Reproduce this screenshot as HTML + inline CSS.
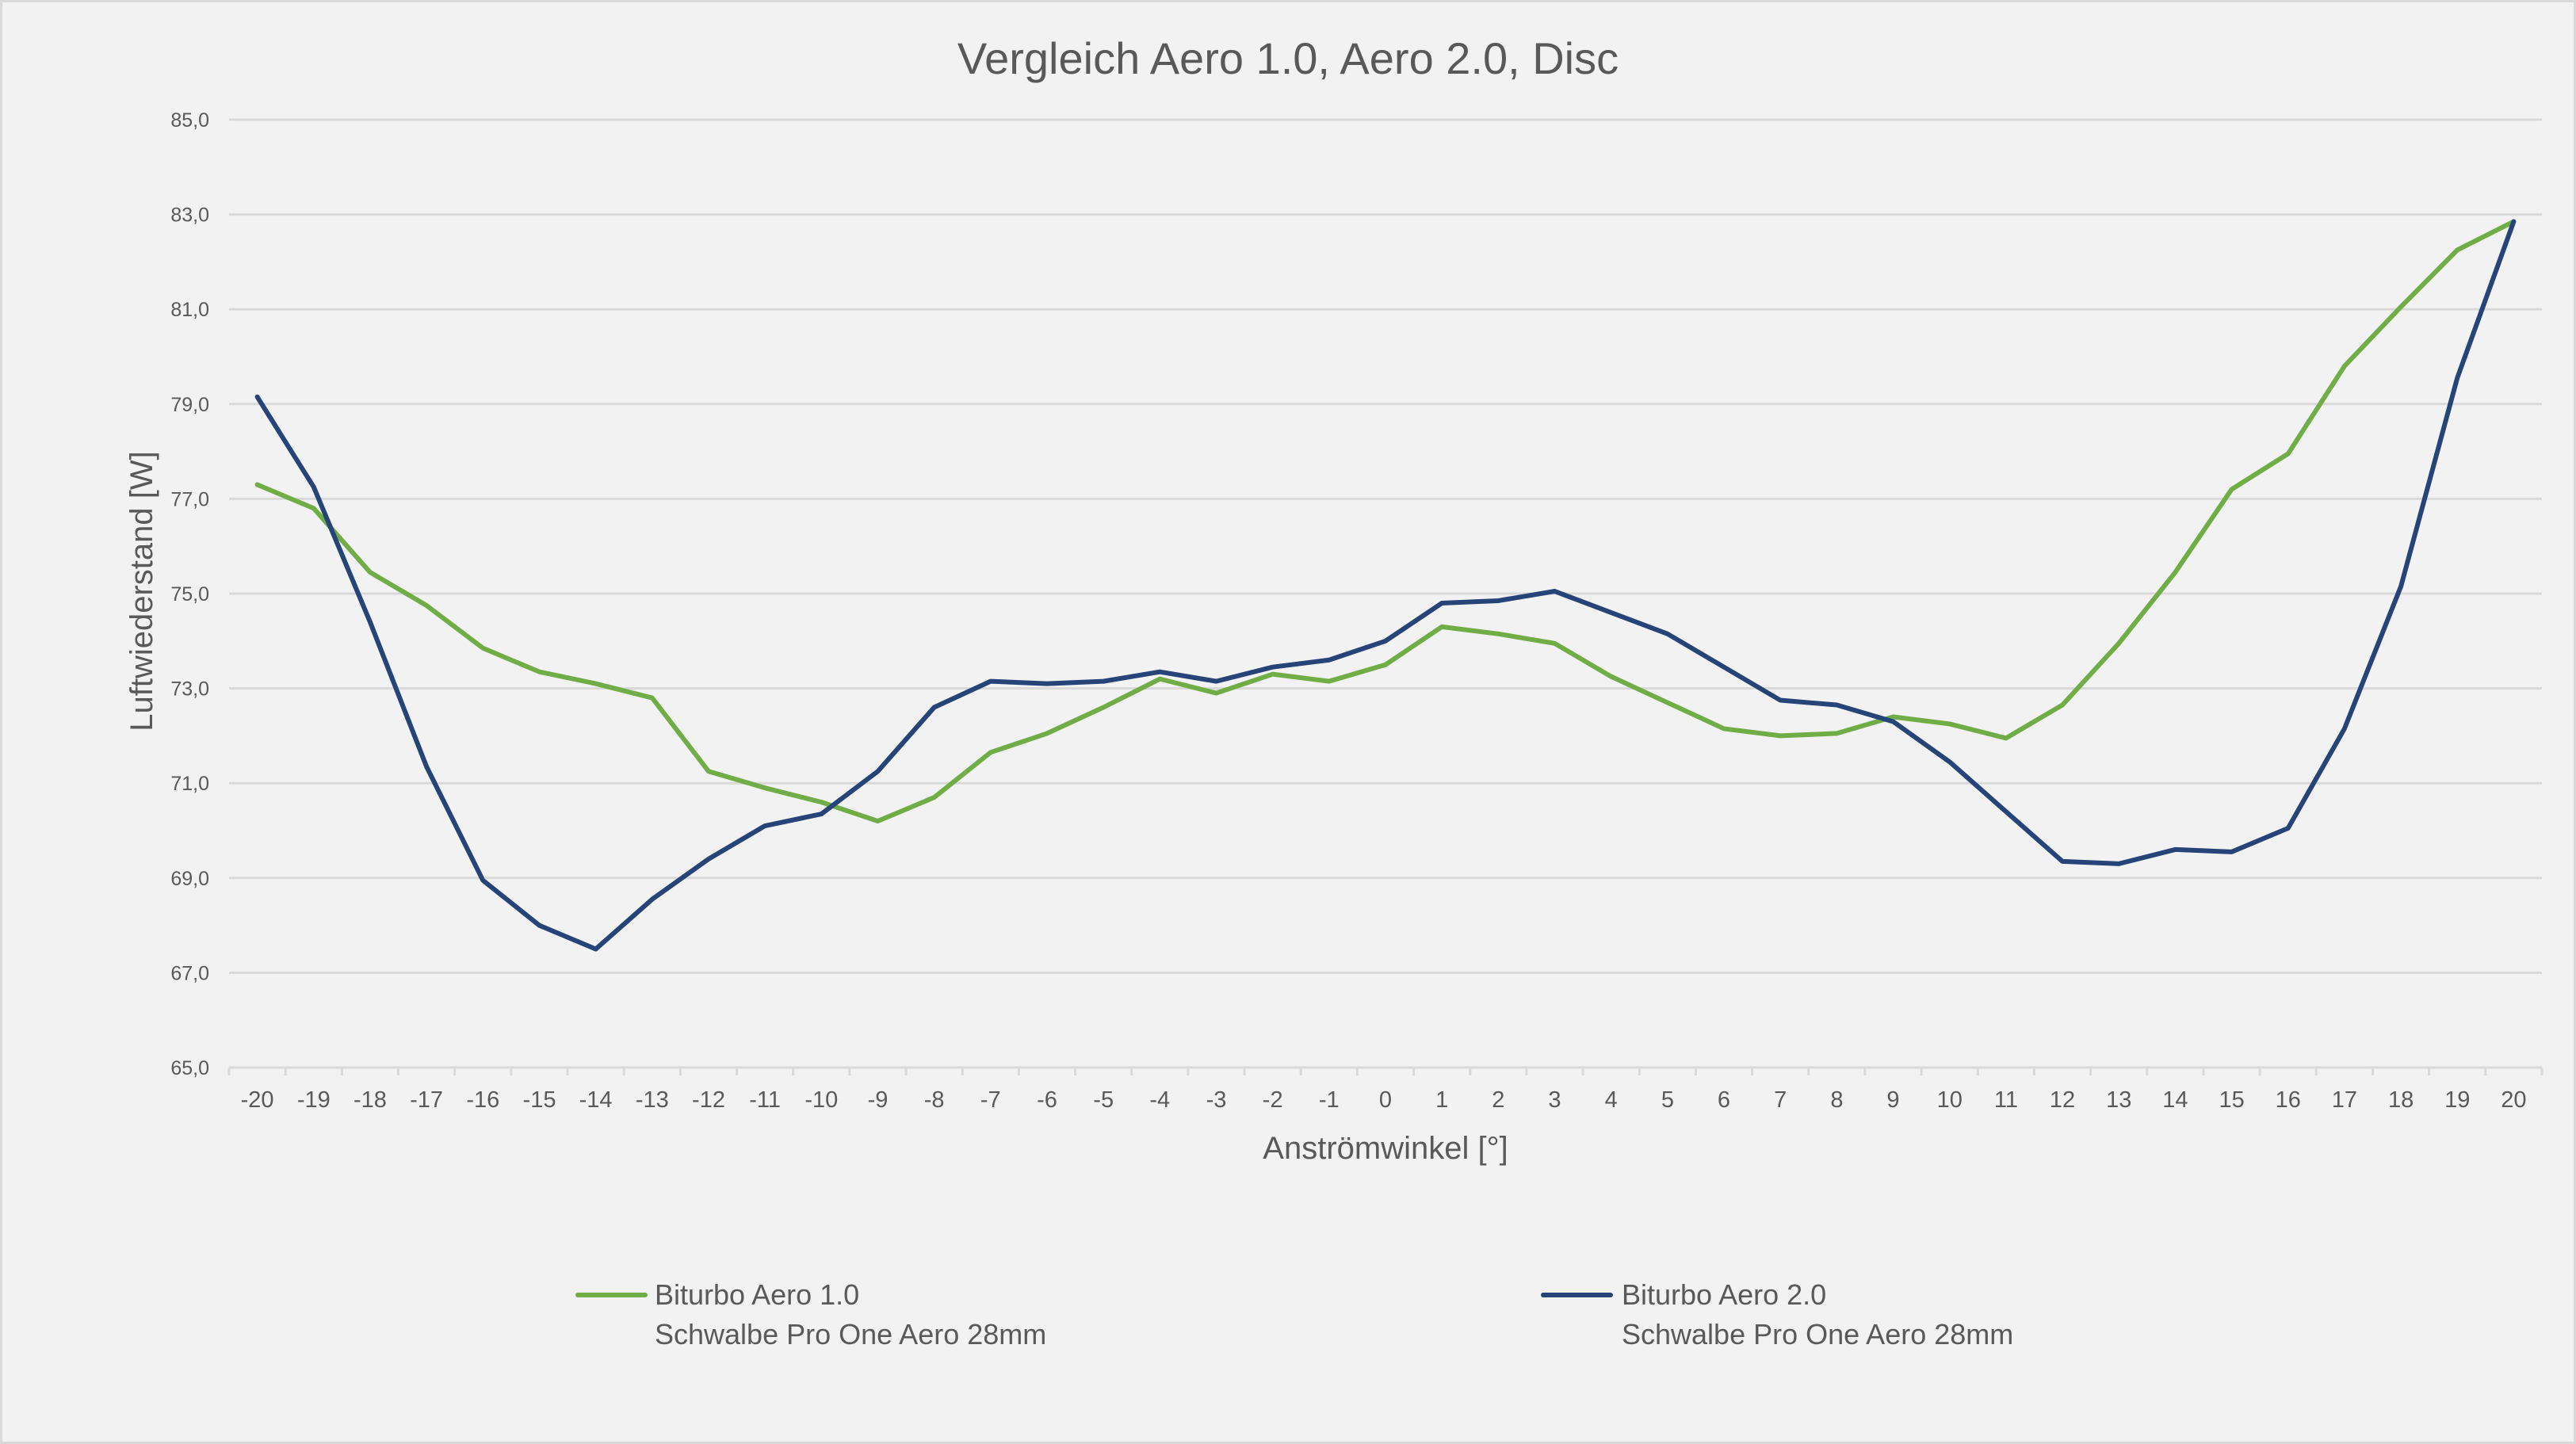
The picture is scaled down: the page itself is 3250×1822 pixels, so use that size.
<!DOCTYPE html>
<html><head><meta charset="utf-8"><style>
html,body{margin:0;padding:0;background:#f2f2f2;}
svg{display:block;}
text{font-family:"Liberation Sans",sans-serif;fill:#595959;}
</style></head><body>
<svg width="3250" height="1822" viewBox="0 0 3250 1822" xmlns="http://www.w3.org/2000/svg">
<rect x="1.5" y="1.5" width="3247" height="1819" fill="#f2f2f2" stroke="#d9d9d9" stroke-width="3"/>
<text x="1625" y="93" font-size="56" text-anchor="middle">Vergleich Aero 1.0, Aero 2.0, Disc</text>
<g stroke="#d9d9d9" stroke-width="3">
<line x1="289" y1="151" x2="3207" y2="151"/>
<line x1="289" y1="270.6" x2="3207" y2="270.6"/>
<line x1="289" y1="390.2" x2="3207" y2="390.2"/>
<line x1="289" y1="509.8" x2="3207" y2="509.8"/>
<line x1="289" y1="629.4" x2="3207" y2="629.4"/>
<line x1="289" y1="749" x2="3207" y2="749"/>
<line x1="289" y1="868.6" x2="3207" y2="868.6"/>
<line x1="289" y1="988.2" x2="3207" y2="988.2"/>
<line x1="289" y1="1107.8" x2="3207" y2="1107.8"/>
<line x1="289" y1="1227.4" x2="3207" y2="1227.4"/>
<line x1="289" y1="1347" x2="3207" y2="1347"/>
</g>
<g transform="translate(289,1347) scale(71.17,1)" stroke="#d9d9d9" stroke-width="3">
<path vector-effect="non-scaling-stroke" d="M0,0v10M1,0v10M2,0v10M3,0v10M4,0v10M5,0v10M6,0v10M7,0v10M8,0v10M9,0v10M10,0v10M11,0v10M12,0v10M13,0v10M14,0v10M15,0v10M16,0v10M17,0v10M18,0v10M19,0v10M20,0v10M21,0v10M22,0v10M23,0v10M24,0v10M25,0v10M26,0v10M27,0v10M28,0v10M29,0v10M30,0v10M31,0v10M32,0v10M33,0v10M34,0v10M35,0v10M36,0v10M37,0v10M38,0v10M39,0v10M40,0v10M41,0v10"/>
</g>
<g font-size="25" text-anchor="end">
<text x="264" y="160">85,0</text>
<text x="264" y="279.6">83,0</text>
<text x="264" y="399.2">81,0</text>
<text x="264" y="518.8">79,0</text>
<text x="264" y="638.4">77,0</text>
<text x="264" y="758">75,0</text>
<text x="264" y="877.6">73,0</text>
<text x="264" y="997.2">71,0</text>
<text x="264" y="1116.8">69,0</text>
<text x="264" y="1236.4">67,0</text>
<text x="264" y="1356">65,0</text>
</g>
<g font-size="29" text-anchor="middle">
<text x="324.6" y="1397">-20</text><text x="395.8" y="1397">-19</text><text x="466.9" y="1397">-18</text><text x="538.1" y="1397">-17</text><text x="609.3" y="1397">-16</text><text x="680.5" y="1397">-15</text><text x="751.6" y="1397">-14</text><text x="822.8" y="1397">-13</text><text x="894" y="1397">-12</text><text x="965.1" y="1397">-11</text><text x="1036.3" y="1397">-10</text><text x="1107.5" y="1397">-9</text><text x="1178.6" y="1397">-8</text><text x="1249.8" y="1397">-7</text><text x="1321" y="1397">-6</text><text x="1392.2" y="1397">-5</text><text x="1463.3" y="1397">-4</text><text x="1534.5" y="1397">-3</text><text x="1605.7" y="1397">-2</text><text x="1676.8" y="1397">-1</text><text x="1748" y="1397">0</text><text x="1819.2" y="1397">1</text><text x="1890.3" y="1397">2</text><text x="1961.5" y="1397">3</text><text x="2032.7" y="1397">4</text><text x="2103.9" y="1397">5</text><text x="2175" y="1397">6</text><text x="2246.2" y="1397">7</text><text x="2317.4" y="1397">8</text><text x="2388.5" y="1397">9</text><text x="2459.7" y="1397">10</text><text x="2530.9" y="1397">11</text><text x="2602" y="1397">12</text><text x="2673.2" y="1397">13</text><text x="2744.4" y="1397">14</text><text x="2815.6" y="1397">15</text><text x="2886.7" y="1397">16</text><text x="2957.9" y="1397">17</text><text x="3029.1" y="1397">18</text><text x="3100.2" y="1397">19</text><text x="3171.4" y="1397">20</text>
</g>
<text x="1748" y="1462" font-size="40" text-anchor="middle">Anströmwinkel [°]</text>
<text transform="translate(192,746) rotate(-90)" font-size="40" text-anchor="middle">Luftwiederstand [W]</text>
<g transform="translate(324.6,1347) scale(71.17,-59.8)" fill="none" stroke-linejoin="round" stroke-linecap="round">
<polyline vector-effect="non-scaling-stroke" stroke="#70ad47" stroke-width="6" points="0,12.3 1,11.8 2,10.45 3,9.75 4,8.85 5,8.35 6,8.1 7,7.8 8,6.25 9,5.9 10,5.6 11,5.2 12,5.7 13,6.65 14,7.05 15,7.6 16,8.2 17,7.9 18,8.3 19,8.15 20,8.5 21,9.3 22,9.15 23,8.95 24,8.25 25,7.7 26,7.15 27,7.0 28,7.05 29,7.4 30,7.25 31,6.95 32,7.65 33,8.95 34,10.45 35,12.2 36,12.95 37,14.8 38,16.05 39,17.25 40,17.85"/>
<polyline vector-effect="non-scaling-stroke" stroke="#264478" stroke-width="6" points="0,14.15 1,12.25 2,9.4 3,6.35 4,3.95 5,3.0 6,2.5 7,3.55 8,4.4 9,5.1 10,5.35 11,6.25 12,7.6 13,8.15 14,8.1 15,8.15 16,8.35 17,8.15 18,8.45 19,8.6 20,9.0 21,9.8 22,9.85 23,10.05 24,9.6 25,9.15 26,8.45 27,7.75 28,7.65 29,7.3 30,6.45 31,5.4 32,4.35 33,4.3 34,4.6 35,4.55 36,5.05 37,7.15 38,10.15 39,14.55 40,17.85"/>
</g>
<line x1="729" y1="1634" x2="814" y2="1634" stroke="#70ad47" stroke-width="6" stroke-linecap="round"/>
<text x="826" y="1646" font-size="36">Biturbo Aero 1.0</text>
<text x="826" y="1696" font-size="36">Schwalbe Pro One Aero 28mm</text>
<line x1="1947" y1="1634" x2="2032" y2="1634" stroke="#264478" stroke-width="6" stroke-linecap="round"/>
<text x="2046" y="1646" font-size="36">Biturbo Aero 2.0</text>
<text x="2046" y="1696" font-size="36">Schwalbe Pro One Aero 28mm</text>
</svg>
</body></html>
